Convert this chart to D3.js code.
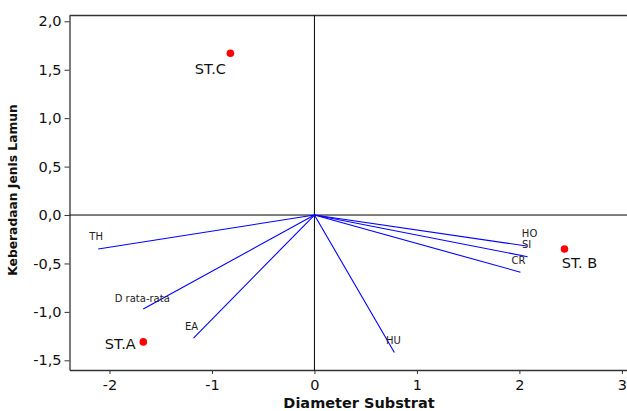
<!DOCTYPE html>
<html>
<head>
<meta charset="utf-8">
<script src="https://cdn.jsdelivr.net/npm/d3@7"></script>
<style>
  html, body { margin: 0; padding: 0; background: #fff; }
  svg { display: block; }
  text { font-family: "DejaVu Sans", Verdana, sans-serif; }
</style>
</head>
<body>
<div id="chart"></div>
<script>
// ---- data ----
const vectorNames = ["TH", "D rata-rata", "EA", "HU", "HO", "SI", "CR"];
const vectorX = [-2.11, -1.67, -1.18, 0.78, 2.07, 2.08, 2.01];
const vectorY = [-0.35, -0.97, -1.27, -1.42, -0.32, -0.43, -0.59];

const stationNames = ["ST.C", "ST.A", "ST. B"];
const stationX = [-0.82, -1.67, 2.44];
const stationY = [1.67, -1.31, -0.35];

const xTicks = [-2, -1, 0, 1, 2, 3];
const yTicks = [-1.5, -1.0, -0.5, 0.0, 0.5, 1.0, 1.5, 2.0];

const xTitle = "Diameter Substrat";
const yTitle = "Keberadaan Jenis Lamun";

// ---- layout / style ----
const W = 627, H = 411;
const plot = { left: 69.5, right: 627, top: 15.5, bottom: 370 };
const vectorLabelOffset = {
  "TH": [-2, -9], "D rata-rata": [-1, -7], "EA": [-2, -8], "HU": [-1, -9],
  "HO": [3, -9], "SI": [-1, -9], "CR": [-2, -8]
};
const stationLabelOffset = { "ST.C": [-20, 21], "ST.A": [-23, 7], "ST. B": [15, 19] };

const svg = d3.select("#chart").append("svg").attr("width", W).attr("height", H);

const x = d3.scaleLinear().domain([-2.39, 3.05]).range([plot.left, plot.right]);
const y = d3.scaleLinear().domain([-1.6, 2.06]).range([plot.bottom, plot.top]);

const fmtY = v => d3.format(".1f")(v).replace(".", ",").replace("−", "-");
const fmtX = v => d3.format("d")(v).replace("−", "-");

// axes
const xAxis = svg.append("g").attr("transform", `translate(0,${plot.bottom})`)
  .call(d3.axisBottom(x).tickValues(xTicks).tickFormat(fmtX).tickSize(4).tickSizeOuter(0));
const yAxis = svg.append("g").attr("transform", `translate(${plot.left},0)`)
  .call(d3.axisLeft(y).tickValues(yTicks).tickFormat(fmtY).tickSize(5).tickSizeOuter(0));
[xAxis, yAxis].forEach(g => {
  g.select(".domain").attr("stroke", "#333").attr("stroke-width", 1.3);
  g.selectAll(".tick line").attr("stroke", "#333");
  g.selectAll(".tick text").attr("font-family", "DejaVu Sans, Verdana, sans-serif")
    .attr("font-size", 14.5).attr("fill", "#111");
});
xAxis.selectAll(".tick text").attr("dy", "0.92em");
yAxis.selectAll(".tick text").attr("x", -8);

// top border
svg.append("line").attr("x1", plot.left).attr("x2", plot.right)
  .attr("y1", plot.top).attr("y2", plot.top).attr("stroke", "#333").attr("stroke-width", 1.3);

// zero lines
svg.append("line").attr("x1", x(0)).attr("x2", x(0)).attr("y1", plot.top).attr("y2", plot.bottom)
  .attr("stroke", "#000").attr("stroke-width", 1);
svg.append("line").attr("x1", plot.left).attr("x2", plot.right).attr("y1", y(0)).attr("y2", y(0))
  .attr("stroke", "#000").attr("stroke-width", 1);

// vectors
const vectors = vectorNames.map((n, i) => ({ name: n, x: vectorX[i], y: vectorY[i] }));
svg.append("g").selectAll("line").data(vectors).join("line")
  .attr("x1", x(0)).attr("y1", y(0))
  .attr("x2", d => x(d.x)).attr("y2", d => y(d.y))
  .attr("stroke", "#0000ff").attr("stroke-width", 1.1);
svg.append("g").selectAll("text").data(vectors).join("text")
  .attr("x", d => x(d.x) + vectorLabelOffset[d.name][0])
  .attr("y", d => y(d.y) + vectorLabelOffset[d.name][1])
  .attr("text-anchor", "middle").attr("font-size", 10).attr("fill", "#222")
  .text(d => d.name);

// stations
const stations = stationNames.map((n, i) => ({ name: n, x: stationX[i], y: stationY[i] }));
svg.append("g").selectAll("circle").data(stations).join("circle")
  .attr("cx", d => x(d.x)).attr("cy", d => y(d.y)).attr("r", 3.8).attr("fill", "#ff0000");
svg.append("g").selectAll("text").data(stations).join("text")
  .attr("x", d => x(d.x) + stationLabelOffset[d.name][0])
  .attr("y", d => y(d.y) + stationLabelOffset[d.name][1])
  .attr("text-anchor", "middle").attr("font-size", 14.5).attr("fill", "#111")
  .text(d => d.name);

// titles
svg.append("text").attr("x", 359).attr("y", 408).attr("text-anchor", "middle")
  .attr("font-size", 14.5).attr("font-weight", "bold").attr("fill", "#111").text(xTitle);
svg.append("text").attr("transform", "translate(17,190) rotate(-90)").attr("text-anchor", "middle")
  .attr("font-size", 12.3).attr("font-weight", "bold").attr("fill", "#111").text(yTitle);
</script>
</body>
</html>
